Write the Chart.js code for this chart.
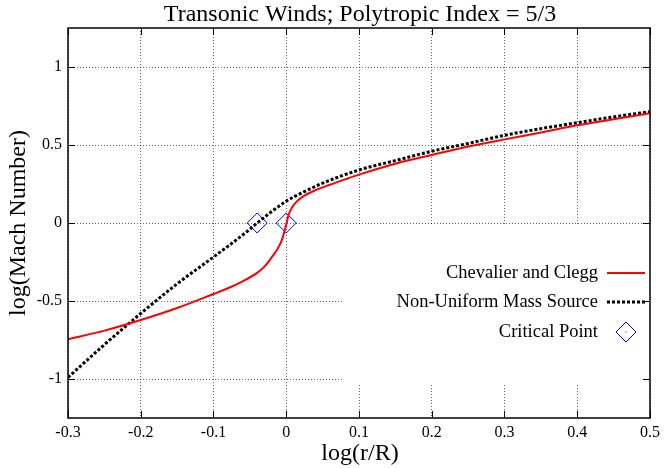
<!DOCTYPE html>
<html>
<head>
<meta charset="utf-8">
<script src="https://cdn.jsdelivr.net/npm/chart.js@4/dist/chart.umd.min.js"></script>
<style>
  body { margin: 0; background: #fff; }
  canvas { display: block; }
</style>
</head>
<body>
<canvas id="chart" width="665" height="468"></canvas>
<script>
// Values (log r/R vs log Mach number)
const chevalierX = [-0.3, -0.25, -0.2, -0.15, -0.1, -0.08, -0.06, -0.04, -0.03, -0.02, -0.01, -0.005, 0, 0.003, 0.008, 0.015, 0.025, 0.04, 0.06, 0.08, 0.1, 0.15, 0.2, 0.25, 0.3, 0.35, 0.4, 0.45, 0.5];
const chevalierY = [-0.745, -0.69, -0.622, -0.545, -0.455, -0.418, -0.374, -0.32, -0.28, -0.22, -0.15, -0.095, -0.01, 0.05, 0.1, 0.14, 0.175, 0.21, 0.245, 0.278, 0.31, 0.38, 0.436, 0.49, 0.536, 0.58, 0.626, 0.665, 0.703];

const massSourceX = [-0.3, -0.25, -0.2, -0.15, -0.1, -0.05, -0.04, 0, 0.02, 0.05, 0.1, 0.15, 0.2, 0.25, 0.3, 0.35, 0.4, 0.45, 0.5];
const massSourceY = [-0.99, -0.78, -0.58, -0.39, -0.218, -0.04, 0, 0.14, 0.19, 0.255, 0.34, 0.40, 0.46, 0.51, 0.562, 0.605, 0.643, 0.68, 0.714];

const criticalX = [-0.04, 0];
const criticalY = [0, 0];

const xTicks = [-0.3, -0.2, -0.1, 0, 0.1, 0.2, 0.3, 0.4, 0.5];
const yTicks = [-1, -0.5, 0, 0.5, 1];

const seriesNames = ['Chevalier and Clegg', 'Non-Uniform Mass Source', 'Critical Point'];
const titleText = 'Transonic Winds; Polytropic Index = 5/3';
const xTitle = 'log(r/R)';
const yTitle = 'log(Mach Number)';

const SERIF = '"Liberation Serif", "Times New Roman", serif';
const toPoints = (xs, ys) => xs.map((x, i) => ({ x: x, y: ys[i] }));

// gnuplot-ish frame: border, inward ticks, opaque key box, titles
const framePlugin = {
  id: 'frame',
  beforeDatasetsDraw(chart) {
    const ctx = chart.ctx;
    ctx.save();
    ctx.fillStyle = '#fff';
    ctx.fillRect(343, 224, 308, 159); // key box hides the grid behind it
    ctx.restore();
  },
  afterDatasetsDraw(chart) {
    const { ctx, chartArea: a, scales } = chart;
    ctx.save();

    // inward tick marks on all four sides
    ctx.strokeStyle = '#000';
    ctx.lineWidth = 1;
    ctx.beginPath();
    xTicks.forEach(v => {
      const px = Math.round(scales.x.getPixelForValue(v)) + 0.5;
      ctx.moveTo(px, a.bottom); ctx.lineTo(px, a.bottom - 7);
      ctx.moveTo(px, a.top); ctx.lineTo(px, a.top + 7);
    });
    yTicks.forEach(v => {
      const py = Math.round(scales.y.getPixelForValue(v)) + 0.5;
      ctx.moveTo(a.left, py); ctx.lineTo(a.left + 7, py);
      ctx.moveTo(a.right, py); ctx.lineTo(a.right - 7, py);
    });
    ctx.stroke();

    // border
    ctx.lineWidth = 1.5;
    ctx.strokeRect(a.left, a.top, a.right - a.left, a.bottom - a.top);

    // key
    ctx.fillStyle = '#000';
    ctx.font = '18.5px ' + SERIF;
    ctx.textAlign = 'right';
    ctx.textBaseline = 'middle';
    const keyY = [273, 302, 332];
    seriesNames.forEach((name, i) => ctx.fillText(name, 598, keyY[i]));

    ctx.strokeStyle = '#ff0000';
    ctx.lineWidth = 2;
    ctx.beginPath(); ctx.moveTo(607, keyY[0]); ctx.lineTo(645, keyY[0]); ctx.stroke();

    ctx.strokeStyle = '#000';
    ctx.lineWidth = 3;
    ctx.setLineDash([3, 2]);
    ctx.beginPath(); ctx.moveTo(607, keyY[1]); ctx.lineTo(645, keyY[1]); ctx.stroke();
    ctx.setLineDash([]);

    ctx.strokeStyle = '#0000ff';
    ctx.lineWidth = 1;
    ctx.beginPath();
    ctx.moveTo(616, keyY[2]); ctx.lineTo(626, keyY[2] - 10);
    ctx.lineTo(636, keyY[2]); ctx.lineTo(626, keyY[2] + 10);
    ctx.closePath(); ctx.stroke();
    ctx.fillStyle = '#0000ff';
    ctx.fillRect(625.5, keyY[2] - 0.5, 1, 1);

    // titles
    ctx.fillStyle = '#000';
    ctx.textAlign = 'center';
    ctx.textBaseline = 'alphabetic';
    ctx.font = '24px ' + SERIF;
    ctx.fillText(titleText, 360, 21);
    ctx.fillText(xTitle, 360, 460);
    ctx.translate(19, 223);
    ctx.rotate(-Math.PI / 2);
    ctx.textBaseline = 'middle';
    ctx.fillText(yTitle, 0, 0);

    ctx.restore();
  }
};

const gridStyle = {
  color: 'rgba(0, 0, 0, 0.6)',
  lineWidth: 1,
  drawTicks: false
};

new Chart(document.getElementById('chart').getContext('2d'), {
  type: 'line',
  data: {
    datasets: [
      {
        label: seriesNames[0],
        data: toPoints(chevalierX, chevalierY),
        borderColor: '#ff0000',
        borderWidth: 2,
        pointRadius: 0,
        fill: false,
        cubicInterpolationMode: 'monotone'
      },
      {
        label: seriesNames[1],
        data: toPoints(massSourceX, massSourceY),
        borderColor: '#000',
        borderWidth: 3,
        borderDash: [3, 2],
        pointRadius: 0,
        fill: false,
        cubicInterpolationMode: 'monotone'
      },
      {
        label: seriesNames[2],
        data: toPoints(criticalX, criticalY),
        showLine: false,
        pointStyle: 'rectRot',
        pointRadius: 10,
        pointBorderColor: '#0000ff',
        pointBackgroundColor: 'rgba(0,0,0,0)',
        pointBorderWidth: 1
      }
    ]
  },
  options: {
    responsive: false,
    animation: false,
    layout: { padding: { top: 28, right: 12, left: 0, bottom: 0 } },
    plugins: {
      legend: { display: false },
      title: { display: false },
      tooltip: { enabled: false }
    },
    scales: {
      x: {
        type: 'linear',
        min: -0.3,
        max: 0.5,
        afterBuildTicks: s => { s.ticks = xTicks.map(v => ({ value: v })); },
        afterFit: s => { s.height = 50; },
        grid: gridStyle,
        border: { display: false, dash: [1, 2] },
        ticks: {
          color: '#000',
          font: { family: SERIF, size: 16 },
          padding: 5,
          maxRotation: 0,
          autoSkip: false,
          callback: v => String(v)
        }
      },
      y: {
        type: 'linear',
        min: -1.25,
        max: 1.25,
        afterBuildTicks: s => { s.ticks = yTicks.map(v => ({ value: v })); },
        afterFit: s => { s.width = 68; },
        grid: gridStyle,
        border: { display: false, dash: [1, 2] },
        ticks: {
          color: '#000',
          font: { family: SERIF, size: 16 },
          padding: 6,
          autoSkip: false,
          callback: v => String(v)
        }
      }
    }
  },
  plugins: [framePlugin]
});
</script>
</body>
</html>
